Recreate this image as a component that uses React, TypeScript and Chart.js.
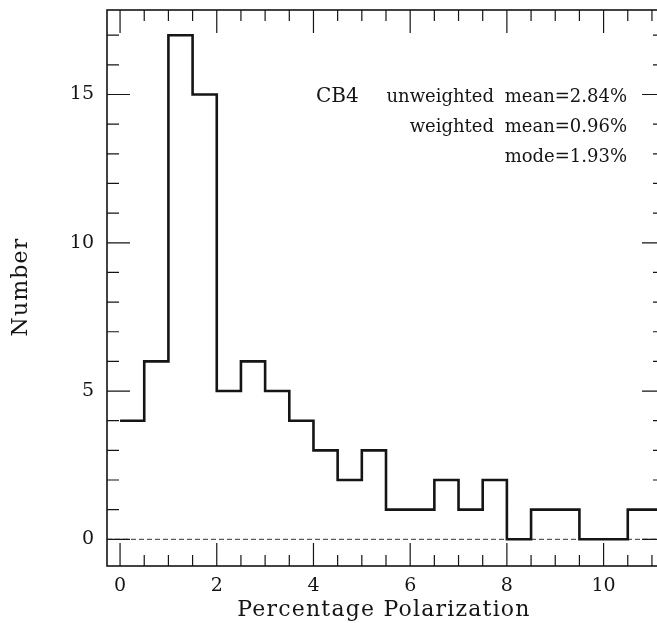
import React, { useEffect, useRef } from "react";
import { Chart, registerables } from "chart.js";

Chart.register(...registerables);

// Histogram of percentage polarization, 0.5% bins
const BIN_LEFT_EDGES = [
  0, 0.5, 1, 1.5, 2, 2.5, 3, 3.5, 4, 4.5, 5, 5.5, 6, 6.5, 7, 7.5, 8, 8.5, 9, 9.5, 10, 10.5, 11,
];
const COUNTS = [4, 6, 17, 15, 5, 6, 5, 4, 3, 2, 3, 1, 1, 2, 1, 2, 0, 1, 1, 0, 0, 1, 1];
const BIN_WIDTH = 0.5;

const X_TICKS = [0, 2, 4, 6, 8, 10];
const Y_TICKS = [0, 5, 10, 15];
const X_MINOR_STEP = 0.5;
const Y_MINOR_STEP = 1;

const X_TITLE = "Percentage Polarization";
const Y_TITLE = "Number";
const FIELD_NAME = "CB4";
const STATS_LINES = ["unweighted mean=2.84%", "weighted mean=0.96%", "mode=1.93%"];

const FONT = "'DejaVu Serif', 'Liberation Serif', serif";
const INK = "#151515";

function stepPoints() {
  const pts = BIN_LEFT_EDGES.map((x, i) => ({ x, y: COUNTS[i] }));
  const last = BIN_LEFT_EDGES.length - 1;
  pts.push({ x: BIN_LEFT_EDGES[last] + BIN_WIDTH, y: COUNTS[last] });
  return pts;
}

const framePlugin = {
  id: "frameAndLabels",
  beforeDatasetsDraw(chart: any) {
    const { ctx, chartArea, scales } = chart;
    const y0 = scales.y.getPixelForValue(0);
    ctx.save();
    ctx.strokeStyle = "#333";
    ctx.lineWidth = 1;
    ctx.setLineDash([5, 3]);
    ctx.beginPath();
    ctx.moveTo(chartArea.left, y0);
    ctx.lineTo(chartArea.right, y0);
    ctx.stroke();
    ctx.restore();
  },
  afterDatasetsDraw(chart: any) {
    const { ctx, chartArea, scales } = chart;
    const { left, right, top, bottom } = chartArea;
    const xs = scales.x;
    const ys = scales.y;
    ctx.save();
    ctx.strokeStyle = INK;

    // frame
    ctx.lineWidth = 1.6;
    ctx.strokeRect(left, top, right - left, bottom - top);

    // inward ticks on all four sides
    ctx.lineWidth = 1.2;
    const MAJOR = 23;
    const MINOR = 11;
    ctx.beginPath();
    for (let v = 0; v <= xs.max + 1e-9; v += X_MINOR_STEP) {
      const px = xs.getPixelForValue(v);
      if (px < left || px > right) continue;
      const len = X_TICKS.includes(Math.round(v * 100) / 100) ? MAJOR : MINOR;
      ctx.moveTo(px, bottom);
      ctx.lineTo(px, bottom - len);
      ctx.moveTo(px, top);
      ctx.lineTo(px, top + len);
    }
    for (let v = 0; v <= ys.max + 1e-9; v += Y_MINOR_STEP) {
      const py = ys.getPixelForValue(v);
      if (py < top || py > bottom) continue;
      const len = Y_TICKS.includes(v) ? MAJOR : MINOR + 1;
      ctx.moveTo(left, py);
      ctx.lineTo(left + len, py);
      ctx.moveTo(right, py);
      ctx.lineTo(right - len, py);
    }
    ctx.stroke();

    // field name and statistics
    ctx.fillStyle = INK;
    ctx.textBaseline = "alphabetic";
    ctx.font = `20px ${FONT}`;
    ctx.textAlign = "left";
    ctx.fillText(FIELD_NAME, left + 209, top + 92);
    ctx.font = `18px ${FONT}`;
    ctx.textAlign = "right";
    (ctx as any).wordSpacing = "5px";
    STATS_LINES.forEach((line, i) => {
      ctx.fillText(line, right - 38, top + 92 + i * 30);
    });
    (ctx as any).wordSpacing = "0px";

    // axis titles
    ctx.font = `22px ${FONT}`;
    (ctx as any).letterSpacing = "1.2px";
    ctx.textAlign = "center";
    ctx.fillText(X_TITLE, 384, 616);
    ctx.translate(27, 287);
    ctx.rotate(-Math.PI / 2);
    ctx.fillText(Y_TITLE, 0, 0);
    (ctx as any).letterSpacing = "0px";
    ctx.restore();
  },
};

export default function App() {
  const canvasRef = useRef<HTMLCanvasElement | null>(null);

  useEffect(() => {
    document.body.style.margin = "0";
    const canvas = canvasRef.current;
    if (!canvas) return;
    const chart = new Chart(canvas, {
      type: "line",
      data: {
        datasets: [
          {
            data: stepPoints(),
            stepped: "before",
            borderColor: INK,
            borderWidth: 2.6,
            pointRadius: 0,
            fill: false,
            borderJoinStyle: "miter",
          } as any,
        ],
      },
      options: {
        responsive: false,
        animation: false,
        devicePixelRatio: 1,
        layout: { padding: { top: 10, right: 15, left: 0, bottom: 0 } },
        plugins: {
          legend: { display: false },
          tooltip: { enabled: false },
        },
        scales: {
          x: {
            type: "linear",
            min: -0.27,
            max: 11.27,
            grid: { display: false, drawTicks: false },
            border: { display: false },
            afterBuildTicks: (scale: any) => {
              scale.ticks = X_TICKS.map((value) => ({ value }));
            },
            afterFit: (scale: any) => {
              scale.height = 57;
              scale.paddingLeft = 0;
              scale.paddingRight = 0;
            },
            ticks: {
              padding: 9,
              maxRotation: 0,
              color: INK,
              font: { family: FONT, size: 19 },
              callback: (v: any) => String(v),
            },
          },
          y: {
            type: "linear",
            min: -0.9,
            max: 17.85,
            grid: { display: false, drawTicks: false },
            border: { display: false },
            afterBuildTicks: (scale: any) => {
              scale.ticks = Y_TICKS.map((value) => ({ value }));
            },
            afterFit: (scale: any) => {
              scale.width = 107;
              scale.paddingTop = 0;
              scale.paddingBottom = 0;
            },
            ticks: {
              padding: 13,
              color: INK,
              font: { family: FONT, size: 19 },
              callback: (v: any) => String(v),
            },
          },
        },
      },
      plugins: [framePlugin],
    });
    return () => chart.destroy();
  }, []);

  return (
    <div
      style={{
        position: "fixed",
        left: 0,
        top: 0,
        width: 657,
        height: 623,
        overflow: "hidden",
        background: "#fff",
      }}
    >
      <canvas ref={canvasRef} width={680} height={623} style={{ display: "block" }} />
    </div>
  );
}
